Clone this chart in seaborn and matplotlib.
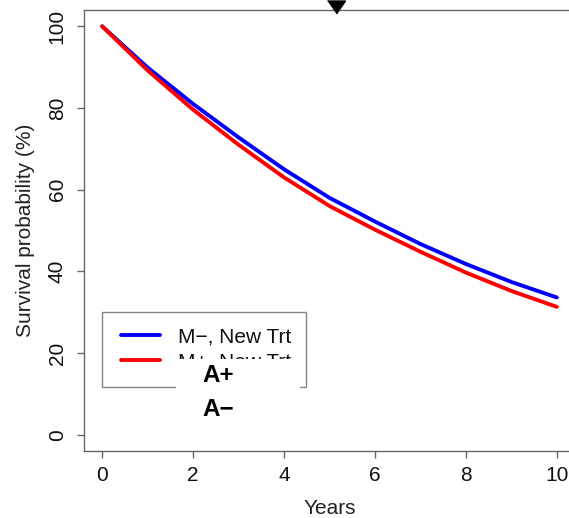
import matplotlib
matplotlib.use("Agg")
import matplotlib.pyplot as plt
import seaborn as sns
import pandas as pd
from matplotlib.patches import Rectangle
from matplotlib.lines import Line2D
from matplotlib.legend_handler import HandlerLine2D

years = [0, 1, 2, 3, 4, 5, 6, 7, 8, 9, 10]
surv_m_minus = [100, 89.9, 81.0, 72.8, 65.0, 58.0, 52.2, 46.7, 41.8, 37.4, 33.6]
surv_m_plus = [100, 89.2, 79.6, 71.0, 63.0, 56.0, 50.2, 44.8, 39.7, 35.2, 31.3]
series_labels = ["M\u2212, New Trt", "M+, New Trt"]
series_colors = ["#0000ff", "#ff0000"]
marker_x = [5.15]
marker_y = [104.8]
overlay_labels = ["A+", "A\u2212"]
x_ticks = [0, 2, 4, 6, 8, 10]
y_ticks = [0, 20, 40, 60, 80, 100]

sns.set_theme(style="white")
plt.rcParams["font.family"] = ["Liberation Sans", "DejaVu Sans"]

df = pd.DataFrame({
    "Years": years * 2,
    "Survival": surv_m_minus + surv_m_plus,
    "Group": [series_labels[0]] * len(years) + [series_labels[1]] * len(years),
})

W, H = 569, 518
fig = plt.figure(figsize=(W / 100, H / 100), dpi=100)
ax = fig.add_axes([84 / W, 1 - 451 / H, 491 / W, 441 / H])

sns.lineplot(data=df, x="Years", y="Survival", hue="Group", hue_order=series_labels,
             palette=series_colors, linewidth=2.8, ax=ax, legend=False)
for ln in ax.get_lines():
    ln.set_solid_capstyle("round")

ax.set_xlim(-0.4, 10.4)
ax.set_ylim(-4, 104)
ax.set_xticks(x_ticks)
ax.set_yticks(y_ticks)
ax.set_xticklabels([str(t) for t in x_ticks])
ax.set_yticklabels([str(t) for t in y_ticks], rotation=90, va="center")
ax.set_xlabel("Years", fontsize=15, color="#222222", labelpad=10)
ax.set_ylabel("Survival probability (%)", fontsize=15, color="#222222", labelpad=9)

axis_col = "#666666"
for s in ax.spines.values():
    s.set_color(axis_col)
    s.set_linewidth(1.0)
ax.tick_params(axis="both", which="major", length=5, width=1.0, color=axis_col,
               labelsize=15, labelcolor="#111111", bottom=True, left=True)
ax.tick_params(axis="x", pad=6)
ax.tick_params(axis="y", pad=7.5)

# triangle marker above the plot
tri = [(-1, 0.72), (1, 0.72), (0, -0.72)]
ax.plot(marker_x, marker_y, marker=tri, markersize=12.96, color="black",
        linestyle="none", clip_on=False, zorder=10)

# legend
handles = [Line2D([], [], color=c, linewidth=2.8, solid_capstyle="round") for c in series_colors]
leg = ax.legend(handles, series_labels, loc="upper left",
                bbox_to_anchor=((102 - 84) / 491, (451 - 312) / 441),
                borderaxespad=0, fontsize=15, frameon=True, fancybox=False,
                borderpad=0.74, labelspacing=0.29, handlelength=2.05,
                handletextpad=0.84,
                handler_map={Line2D: HandlerLine2D(xpad=0.17)})
leg.get_frame().set_edgecolor(axis_col)
leg.get_frame().set_linewidth(1.0)
for t in leg.get_texts():
    t.set_color("#111111")

# white overlay box with labels
rect = Rectangle((176 / W, 1 - 428 / H), 124 / W, 69 / H, transform=fig.transFigure,
                 facecolor="white", edgecolor="none", zorder=20)
fig.add_artist(rect)
fig.text(202 / W, 1 - 375 / H, overlay_labels[0], fontsize=17.5, fontweight="bold",
         ha="left", va="center", color="black", zorder=21)
fig.text(202 / W, 1 - 409 / H, overlay_labels[1], fontsize=17.5, fontweight="bold",
         ha="left", va="center", color="black", zorder=21)

fig.savefig("out.png", dpi=100)
